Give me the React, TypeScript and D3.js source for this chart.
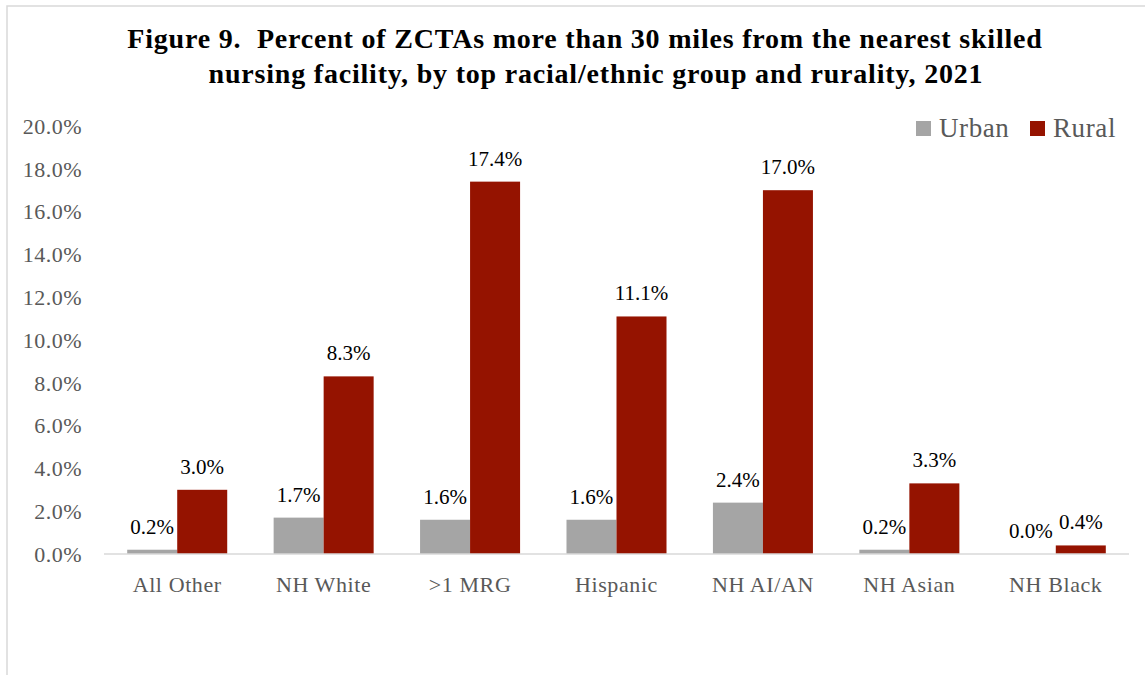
import * as d3 from "d3";

const categories = ["All Other", "NH White", ">1 MRG", "Hispanic", "NH AI/AN", "NH Asian", "NH Black"];
const urban = [0.2, 1.7, 1.6, 1.6, 2.4, 0.2, 0.0];
const rural = [3.0, 8.3, 17.4, 11.1, 17.0, 3.3, 0.4];
const seriesNames = ["Urban", "Rural"];
const seriesColors = ["#A5A5A5", "#951300"];
const yTicks = [0, 2, 4, 6, 8, 10, 12, 14, 16, 18, 20];
const titleLines = [
  "Figure 9.  Percent of ZCTAs more than 30 miles from the nearest skilled",
  "nursing facility, by top racial/ethnic group and rurality, 2021",
];

const W = 1145;
const H = 675;
const font = "'Liberation Serif', 'DejaVu Serif', serif";

export default function App() {
  const left = 104;
  const right = 1129;
  const top = 126;
  const bottom = 554;

  const x = d3.scaleBand<string>().domain(categories).range([left, right]).paddingInner(0.317).paddingOuter(0.1585);
  const xs = d3.scaleBand<string>().domain(seriesNames).range([0, x.bandwidth()]);
  const y = d3.scaleLinear().domain([0, 20]).range([bottom, top]);

  const series = [urban, rural];
  const titleX = [585, 596];

  return (
    <svg width={W} height={H} style={{ position: "fixed", top: 0, left: 0, background: "#fff" }} fontFamily={font}>
      <rect x={7} y={6} width={W + 10} height={H + 10} fill="#fff" stroke="#D9D9D9" strokeWidth={1.5} />

      {/* title */}
      {titleLines.map((t, i) => (
        <text
          key={i}
          x={titleX[i]}
          y={48 + i * 35}
          textAnchor="middle"
          fontWeight="bold"
          fontSize={28}
          letterSpacing={0.8}
          fill="#000"
          style={{ whiteSpace: "pre" }}
        >
          {t}
        </text>
      ))}

      {/* y axis labels */}
      {yTicks.map((t) => (
        <text key={t} x={82} y={y(t)} dy="0.35em" textAnchor="end" fontSize={22} letterSpacing={0.5} fill="#595959">
          {t.toFixed(1)}%
        </text>
      ))}

      {/* bars */}
      {categories.map((c, i) => (
        <g key={c} transform={`translate(${x(c)},0)`}>
          {series.map((s, j) => {
            const bx = xs(seriesNames[j])!;
            const v = s[i];
            return (
              <g key={j}>
                <rect x={bx} y={y(v)} width={xs.bandwidth()} height={bottom - y(v)} fill={seriesColors[j]} />
                <text x={bx + xs.bandwidth() / 2} y={y(v) - 16} textAnchor="middle" fontSize={21} fill="#000">
                  {v.toFixed(1)}%
                </text>
              </g>
            );
          })}
        </g>
      ))}

      {/* baseline */}
      <line x1={left} x2={right} y1={bottom} y2={bottom} stroke="#D9D9D9" strokeWidth={1.5} />

      {/* x labels */}
      {categories.map((c) => (
        <text
          key={c}
          x={x(c)! + x.bandwidth() / 2}
          y={584}
          dy="0.35em"
          textAnchor="middle"
          fontSize={22}
          letterSpacing={0.6}
          fill="#595959"
        >
          {c}
        </text>
      ))}

      {/* legend */}
      {seriesNames.map((n, i) => {
        const lx = [916, 1030][i];
        return (
          <g key={n}>
            <rect x={lx} y={121} width={15} height={15} fill={seriesColors[i]} />
            <text x={lx + 23} y={128} dy="0.35em" fontSize={27} letterSpacing={0.6} fill="#595959">
              {n}
            </text>
          </g>
        );
      })}
    </svg>
  );
}
